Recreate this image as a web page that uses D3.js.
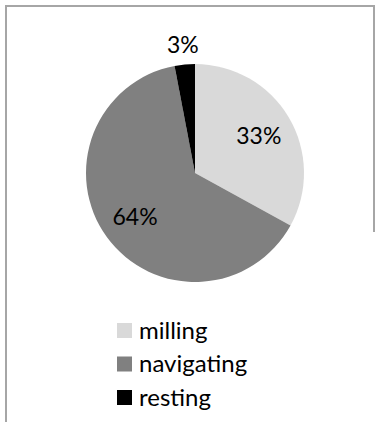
<!DOCTYPE html>
<html>
<head>
<meta charset="utf-8">
<script src="https://cdn.jsdelivr.net/npm/d3@7"></script>
<style>
  html, body { margin: 0; padding: 0; background: #fff; }
  svg { display: block; }
  text { font-family: Lato, "Open Sans", sans-serif; fill: #000; }
</style>
</head>
<body>
<svg id="chart" width="381" height="422"></svg>
<script>
// Activity shares (percent)
const categories = ["milling", "navigating", "resting"];
const shares = [33, 64, 3];
const labels = ["33%", "64%", "3%"];
const colors = ["#d9d9d9", "#808080", "#000000"];

const W = 381, H = 422;
const svg = d3.select("#chart");

// chart frame (right side runs only partway down)
const frame = svg.append("g")
  .attr("fill", "none")
  .attr("stroke", "#a6a6a6")
  .attr("stroke-width", 2);
frame.append("path").attr("d", `M6,${H} V6 H374 V232`);

const cx = 195, cy = 173, r = 109;
const g = svg.append("g").attr("transform", `translate(${cx},${cy})`);

const pie = d3.pie().sort(null).value(d => d.value);
const data = pie(categories.map((c, i) => ({ name: c, value: shares[i], label: labels[i], color: colors[i] })));

const arc = d3.arc().innerRadius(0).outerRadius(r);
const inLabel = d3.arc().innerRadius(r * 0.68).outerRadius(r * 0.68);
const outLabel = d3.arc().innerRadius(r * 1.18).outerRadius(r * 1.18);

g.selectAll("path.slice")
  .data(data)
  .join("path")
  .attr("class", "slice")
  .attr("d", arc)
  .attr("fill", d => d.data.color);

// data labels: inside for large slices, outside for the small one
g.selectAll("text.val")
  .data(data)
  .join("text")
  .attr("class", "val")
  .each(function (d) {
    const small = d.data.value < 10;
    const [x, y] = (small ? outLabel : inLabel).centroid(d);
    d3.select(this)
      .attr("x", x)
      .attr("y", y)
      .attr("dy", "0.36em")
      .attr("text-anchor", "middle");
  })
  .attr("font-size", 23)
  .text(d => d.data.label);

// legend
const legendY = d3.scalePoint().domain(categories).range([323, 390]);
const legend = svg.append("g");
const item = legend.selectAll("g")
  .data(categories)
  .join("g")
  .attr("transform", d => `translate(117,${legendY(d)})`);
item.append("rect")
  .attr("width", 15)
  .attr("height", 15)
  .attr("fill", (d, i) => colors[i]);
item.append("text")
  .attr("x", 22)
  .attr("y", 15.5)
  .attr("font-size", 24)
  .text(d => d);
</script>
</body>
</html>
